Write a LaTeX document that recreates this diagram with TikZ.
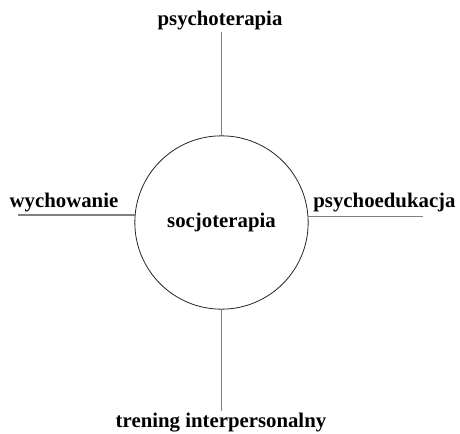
\documentclass[tikz,border=0pt]{standalone}
\usepackage{fontspec}
\setmainfont{Liberation Serif}
\usetikzlibrary{positioning}

\begin{document}
\begin{tikzpicture}[x=0.75pt,y=0.75pt, auto,
	thick,main node/.style={circle,draw=black!85,line width=0.6pt,minimum size=130pt,inner sep=0pt,font=\bfseries\fontsize{15.6}{18}\selectfont},
	text node/.style={inner sep=1pt,font=\bfseries\fontsize{15.6}{18}\selectfont}]
	\useasboundingbox (0,0) rectangle (460,433);
	\node[main node] (1) at (221.5,210.5) {socjoterapia};
	\node[text node,anchor=base] (2) at (220,407) {psychoterapia};
	\node[text node,anchor=base] (3) at (64,226) {wychowanie};
	\node[text node,anchor=base] (4) at (384.5,226) {psychoedukacja};
	\node[text node,anchor=base] (5) at (221,5.5) {trening interpersonalny};
	\coordinate (a) at (18,217);
	\coordinate (b) at (423,217);
	\path[draw=black!50,line width=1.3pt]
	(1) edge (1 |- 2.south)
	(1) edge (1 |- 5.north)
	(1.175.7) edge (1.175.7 -| a)
	(1.4.3) edge (1.4.3 -| b);
\end{tikzpicture}
\end{document}
